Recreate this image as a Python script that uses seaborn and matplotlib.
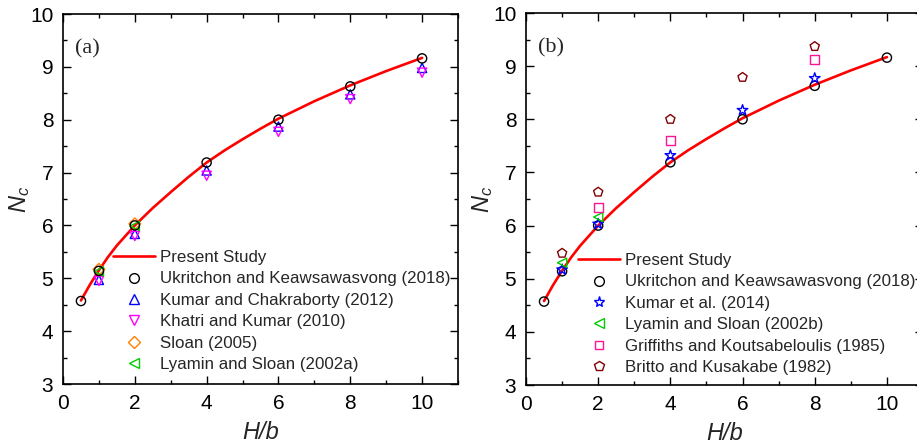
import matplotlib
matplotlib.use("Agg")
import matplotlib.pyplot as plt
from matplotlib.lines import Line2D
from matplotlib.ticker import MultipleLocator
import seaborn as sns
import pandas as pd

# ---------------- data ----------------
curve_x = [0.5, 0.75, 1, 1.25, 1.5, 2, 2.5, 3, 3.5, 4, 4.5, 5, 5.5, 6, 7, 8, 9, 10]
curve_y = [4.58, 4.88, 5.15, 5.40, 5.62, 6.00, 6.33, 6.63, 6.92, 7.19, 7.42, 7.63, 7.83, 8.02, 8.35, 8.65, 8.92, 9.17]

ukr_x = [0.5, 1, 2, 4, 6, 8, 10]
ukr_y = [4.57, 5.14, 6.00, 7.19, 8.00, 8.63, 9.16]

# panel (a)
kc_x = [1, 2, 4, 6, 8, 10]
kc_y = [4.97, 5.84, 7.04, 7.87, 8.48, 8.98]
kk_x = [1, 2, 4, 6, 8, 10]
kk_y = [4.95, 5.80, 6.94, 7.77, 8.39, 8.89]
sl_x = [1, 2]
sl_y = [5.17, 6.03]
ls_a_x = [1, 2]
ls_a_y = [5.13, 5.99]

# panel (b)
ku_x = [1, 2, 4, 6, 8]
ku_y = [5.17, 6.03, 7.32, 8.17, 8.77]
ls_b_x = [1, 2]
ls_b_y = [5.30, 6.16]
gk_x = [2, 4, 8]
gk_y = [6.34, 7.60, 9.12]
bk_x = [1, 2, 4, 6, 8]
bk_y = [5.48, 6.63, 8.00, 8.79, 9.37]

labels_a = ["Present Study", "Ukritchon and Keawsawasvong (2018)",
            "Kumar and Chakraborty (2012)", "Khatri and Kumar (2010)",
            "Sloan (2005)", "Lyamin and Sloan (2002a)"]
labels_b = ["Present Study", "Ukritchon and Keawsawasvong (2018)",
            "Kumar et al. (2014)", "Lyamin and Sloan (2002b)",
            "Griffiths and Koutsabeloulis (1985)", "Britto and Kusakabe (1982)"]

# ---------------- style ----------------
sns.set_style("ticks")
plt.rcParams["font.family"] = ["Liberation Sans", "DejaVu Sans"]
plt.rcParams["mathtext.fontset"] = "custom"
plt.rcParams["mathtext.rm"] = "Liberation Sans"
plt.rcParams["mathtext.it"] = "Liberation Sans:italic"

RED = "#FF0000"
W, H = 917, 448
fig = plt.figure(figsize=(W / 100, H / 100), dpi=100)
ax1 = fig.add_axes([63 / W, 1 - 384 / H, (458 - 63) / W, (384 - 14) / H])
ax2 = fig.add_axes([526 / W, 1 - 385 / H, (923 - 526) / W, (385 - 13) / H])

MS = 44  # scatter size (pt^2)


def open_scatter(ax, x, y, marker, color, s=MS):
    df = pd.DataFrame({"x": x, "y": y})
    sns.scatterplot(data=df, x="x", y="y", marker=marker, s=s, color=color,
                    edgecolor=color, linewidth=1.0, ax=ax, zorder=3, legend=False)
    ax.collections[-1].set_facecolor("none")


def handle(marker, color, ms=7.0):
    return Line2D([], [], ls="none", marker=marker, mfc="none", mec=color,
                  mew=1.0, ms=ms)


def style_axes(ax, panel):
    ax.set_xlim(0, 11)
    ax.set_ylim(3, 10)
    ax.xaxis.set_major_locator(MultipleLocator(2))
    ax.xaxis.set_minor_locator(MultipleLocator(1))
    ax.yaxis.set_major_locator(MultipleLocator(1))
    ax.yaxis.set_minor_locator(MultipleLocator(0.5))
    ax.tick_params(which="both", direction="in", top=True, right=True,
                   width=1.0, colors="black")
    ax.tick_params(which="major", length=6, labelsize=15, pad=7)
    ax.tick_params(which="minor", length=3)
    for sp in ax.spines.values():
        sp.set_visible(True)
        sp.set_linewidth(1.2)
        sp.set_color("black")
    ax.set_xlabel("H/b", fontsize=17, fontstyle="italic")
    ax.set_ylabel("$N_c$", fontsize=17)
    ax.xaxis.set_label_coords(0.5, -0.1)
    ax.yaxis.set_label_coords(-0.078, 0.5)
    ax.text(0.03, 0.905, panel, transform=ax.transAxes, fontsize=16,
            family="Liberation Serif", va="center", ha="left")


LEG = dict(frameon=False, fontsize=12.2, handlelength=2.5, handletextpad=0.25,
           labelspacing=0.38, borderpad=0, borderaxespad=0,
           bbox_transform=fig.transFigure, loc="upper left")

# ---------------- panel (a) ----------------
cdf = pd.DataFrame({"x": curve_x, "y": curve_y})
sns.lineplot(data=cdf, x="x", y="y", color=RED, linewidth=1.9, ax=ax1,
             sort=False, estimator=None, zorder=2)
open_scatter(ax1, kc_x, kc_y, "^", "#0000FF")
open_scatter(ax1, kk_x, kk_y, "v", "#FF00FF")
open_scatter(ax1, sl_x, sl_y, "D", "#FF7F00", s=36)
open_scatter(ax1, ls_a_x, ls_a_y, "<", "#00CC00")
open_scatter(ax1, ukr_x, ukr_y, "o", "black")

h_a = [Line2D([], [], color=RED, lw=1.9),
       handle("o", "black"), handle("^", "#0000FF"), handle("v", "#FF00FF"),
       handle("D", "#FF7F00", 6.0), handle("<", "#00CC00")]
ax1.legend(h_a, labels_a, bbox_to_anchor=(113 / W, 1 - 250 / H), **LEG)
style_axes(ax1, "(a)")

# ---------------- panel (b) ----------------
sns.lineplot(data=cdf, x="x", y="y", color=RED, linewidth=1.9, ax=ax2,
             sort=False, estimator=None, zorder=2)
open_scatter(ax2, ukr_x, ukr_y, "o", "black")
open_scatter(ax2, ku_x, ku_y, "*", "#0000FF", s=64)
open_scatter(ax2, ls_b_x, ls_b_y, "<", "#00CC00")
open_scatter(ax2, gk_x, gk_y, "s", "#FF1493", s=40)
open_scatter(ax2, bk_x, bk_y, "p", "#800000", s=48)

h_b = [Line2D([], [], color=RED, lw=1.9),
       handle("o", "black"), handle("*", "#0000FF", 8.0), handle("<", "#00CC00"),
       handle("s", "#FF1493", 6.4), handle("p", "#800000", 7.2)]
ax2.legend(h_b, labels_b, bbox_to_anchor=(578 / W, 1 - 253 / H), **LEG)
style_axes(ax2, "(b)")

fig.savefig("out.png", dpi=100)
